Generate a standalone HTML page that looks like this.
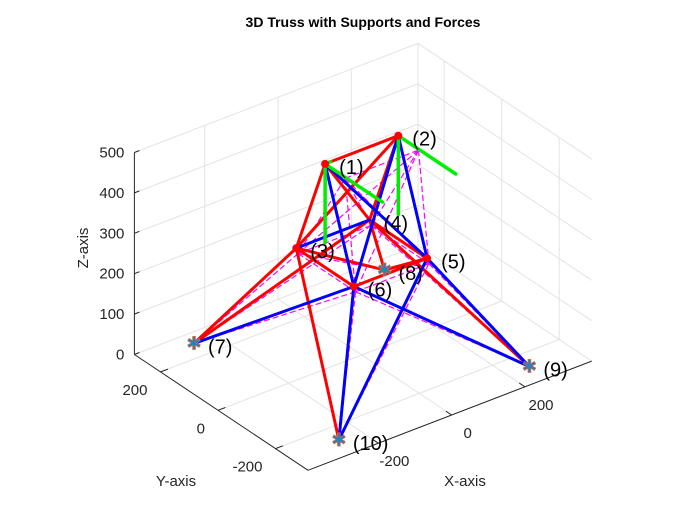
<!DOCTYPE html>
<html><head><meta charset="utf-8">
<style>
html,body{margin:0;padding:0;background:#fff;}
svg{display:block;font-family:"Liberation Sans",Arial,sans-serif;}
</style></head>
<body>
<svg id="chart" width="700" height="525" viewBox="0 0 700 525">
<rect width="700" height="525" fill="#fff"/>
<text x="363" y="27" text-anchor="middle" font-size="14" font-weight="bold" fill="#000">3D Truss with Supports and Forces</text>
<g id="grid"></g>
<g id="axes"></g>
<g id="deformed"></g>
<g id="members"></g>
<g id="forces"></g>
<g id="nodes"></g>
<text x="0" y="0" transform="translate(88,248) rotate(-90)" text-anchor="middle" font-size="15" fill="#262626">Z-axis</text>
<text x="176" y="486" text-anchor="middle" font-size="15" fill="#262626">Y-axis</text>
<text x="465" y="486" text-anchor="middle" font-size="15" fill="#262626">X-axis</text>
</svg>
<script>
// ---- data ----
const nodeX = [-100, 100, -100, 100, 100, -100, -260, 260, 260, -260];
const nodeY = [0, 0, 100, 100, -100, -100, 252, 252, -252, -252];
const nodeZ = [508, 508, 252, 252, 252, 252, 0, 0, 0, 0];
const nodeLabels = ["(1)","(2)","(3)","(4)","(5)","(6)","(7)","(8)","(9)","(10)"];
const dispX = [55, 55, 5, 5, 5, 5, 0, 0, 0, 0];
const dispY = [0, 0, 0, 0, 0, 0, 0, 0, 0, 0];
const dispZ = [-55, -55, -15, -15, -15, -15, 0, 0, 0, 0];
const memberStart = [1,1,2,1,2,2,2,1,1,3,4,3,5,3,6,4,5,4,3,5,6,6,3,4,5];
const memberEnd   = [2,4,3,5,6,4,5,3,6,6,5,4,6,10,7,9,8,7,8,10,9,10,7,8,9];
const memberState = ["r","r","r","b","b","r","b","r","b","r","r","b","r","r","b","r","r","r","r","b","b","b","r","r","b"];
const forceNode = [1, 1, 1, 2, 2];
const forceFx = [15, 0, 0, 0, 0];
const forceFy = [0, -200, 0, -200, 0];
const forceFz = [0, 0, -195, 0, -195];
const supportNodes = [7, 8, 9, 10];
const xTicks = [-200, 0, 200];
const yTicks = [-200, 0, 200];
const zTicks = [0, 100, 200, 300, 400, 500];
// ---- projection ----
const XMIN=-392, XMAX=382, YMIN=-313, YMAX=291, ZMIN=0, ZMAX=500;
const C=[361.7,355], EX=[0.3665,-0.141], EY=[-0.2875,-0.1917], EZ=[0,-0.404];
function P(x,y,z){return [C[0]+x*EX[0]+y*EY[0]+z*EZ[0], C[1]+x*EX[1]+y*EY[1]+z*EZ[1]];}
const NS="http://www.w3.org/2000/svg";
function mk(parent,tag,attrs){const e=document.createElementNS(NS,tag);for(const k in attrs)e.setAttribute(k,attrs[k]);parent.appendChild(e);return e;}
function line(parent,a,b,attrs){return mk(parent,"line",Object.assign({x1:a[0].toFixed(1),y1:a[1].toFixed(1),x2:b[0].toFixed(1),y2:b[1].toFixed(1)},attrs));}
const grid=document.getElementById("grid"), axes=document.getElementById("axes");
const gs={stroke:"#e3e3e3","stroke-width":1};
function gl(a,b){const e=line(grid,a,b,gs);

}
xTicks.forEach(x=>gl(P(x,YMIN,0),P(x,YMAX,0)));
yTicks.forEach(y=>gl(P(XMIN,y,0),P(XMAX,y,0)));
xTicks.forEach(x=>gl(P(x,YMAX,ZMIN),P(x,YMAX,ZMAX)));
zTicks.forEach(z=>gl(P(XMIN,YMAX,z),P(XMAX,YMAX,z)));
yTicks.forEach(y=>gl(P(XMAX,y,ZMIN),P(XMAX,y,ZMAX)));
zTicks.forEach(z=>gl(P(XMAX,YMIN,z),P(XMAX,YMAX,z)));
gl(P(XMAX,YMAX,0),P(XMAX,YMAX,ZMAX));
const as={stroke:"#262626","stroke-width":1};
let e;
e=line(axes,P(XMIN,YMAX,0),P(XMIN,YMAX,ZMAX),as);


e=line(axes,P(XMIN,YMAX,0),P(XMIN,YMIN,0),as);


e=line(axes,P(XMIN,YMIN,0),P(XMAX,YMIN,0),as);


zTicks.forEach(z=>{const p=P(XMIN,YMAX,z);
const t=line(axes,p,[p[0]+5,p[1]-2],as);


const l=mk(axes,"text",{x:(p[0]-10).toFixed(1),y:(p[1]+5).toFixed(1),"text-anchor":"end","font-size":"15",fill:"#262626"});
l.textContent=z;

});
yTicks.forEach(y=>{const p=P(XMIN,y,0);const q=P(XMIN+20,y,0);
const t=line(axes,p,q,as);


const l=mk(axes,"text",{x:(p[0]-13).toFixed(1),y:(p[1]+23).toFixed(1),"text-anchor":"end","font-size":"15",fill:"#262626"});
l.textContent=y;

});
xTicks.forEach(x=>{const p=P(x,YMIN,0);const q=P(x,YMIN+20,0);
const t=line(axes,p,q,as);


const l=mk(axes,"text",{x:(p[0]+16).toFixed(1),y:(p[1]+23).toFixed(1),"text-anchor":"middle","font-size":"15",fill:"#262626"});
l.textContent=x;

});
const np=nodeX.map((x,i)=>P(x,nodeY[i],nodeZ[i]));
const dp=nodeX.map((x,i)=>P(x+dispX[i],nodeY[i]+dispY[i],nodeZ[i]+dispZ[i]));
const def=document.getElementById("deformed");
memberStart.forEach((s,i)=>{const m=line(def,dp[s-1],dp[memberEnd[i]-1],{stroke:"#ff00ff","stroke-width":1.2,"stroke-dasharray":"6,3"});

});
const mem=document.getElementById("members");
["r","b"].forEach(c=>memberStart.forEach((s,i)=>{if(memberState[i]!==c)return;
const m=line(mem,np[s-1],np[memberEnd[i]-1],{stroke:c==="r"?"#ff0000":"#0000ff","stroke-width":3,"stroke-linecap":"round"});

}));
const fg=document.getElementById("forces");
forceNode.forEach((n,i)=>{const i0=n-1;const a=np[i0];
const b=P(nodeX[i0]+forceFx[i],nodeY[i0]+forceFy[i],nodeZ[i0]+forceFz[i]);
const f=line(fg,a,b,{stroke:"#00ee00","stroke-width":3.5,"stroke-linecap":"round"});

});
const ng=document.getElementById("nodes");
np.forEach((p,i)=>{
if(supportNodes.indexOf(i+1)>=0){
const s=mk(ng,"text",{x:p[0].toFixed(1),y:(p[1]+6).toFixed(1),"text-anchor":"middle","font-size":"18",fill:"#2a7fbf",stroke:"#e8682a","stroke-width":0.7});
s.textContent="✱";


}else if(i!==3 && i!==7){
const c=mk(ng,"circle",{cx:p[0].toFixed(1),cy:p[1].toFixed(1),r:4,fill:"#ff0000"});

}
const t=mk(ng,"text",{x:(p[0]+14).toFixed(1),y:(p[1]+10).toFixed(1),"font-size":"20",fill:"#000"});
t.textContent=nodeLabels[i];


});
</script>
</body></html>
